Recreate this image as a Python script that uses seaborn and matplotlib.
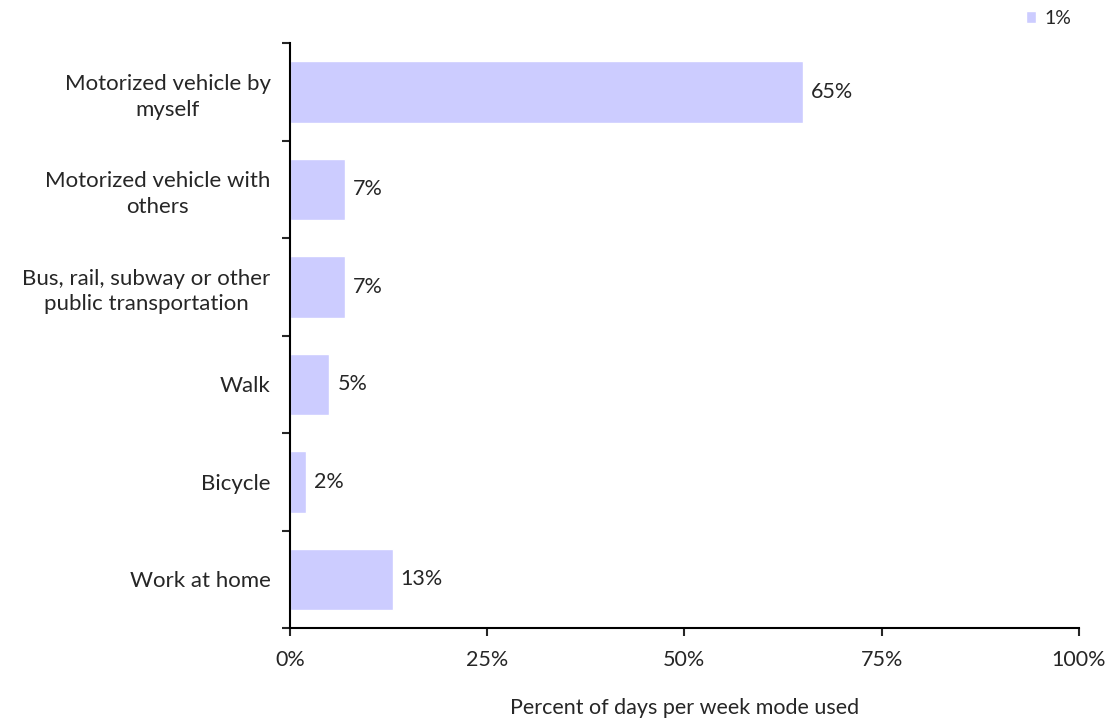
import pandas as pd
import matplotlib.pyplot as plt
import seaborn as sns
from matplotlib.ticker import FixedLocator, PercentFormatter

modes = ['Motorized vehicle by\nmyself', 'Motorized vehicle with\nothers',
         'Bus, rail, subway or other\npublic transportation', 'Walk', 'Bicycle', 'Work at home']
percent = [65, 7, 7, 5, 2, 13]
series_name = '1%'

df = pd.DataFrame({'mode': modes, 'percent': percent, 'series': series_name})

sns.set_style('white')
plt.rcParams['font.family'] = ['Lato', 'DejaVu Sans']

fig = plt.figure(figsize=(11.11, 7.21), dpi=100)
ax = fig.add_axes([0.261, 0.129, 0.71, 0.811])

sns.barplot(data=df, x='percent', y='mode', hue='series', palette=['#CCCCFF'],
            width=0.63, ax=ax, saturation=1)

for i, v in enumerate(percent):
    ax.text(v + 1.0, i, f'{v}%', va='center', ha='left', fontsize=15.5)

ax.set_xlim(0, 100)
ax.set_ylim(len(modes) - 0.5, -0.5)
ax.set_xticks([0, 25, 50, 75, 100])
ax.xaxis.set_major_formatter(PercentFormatter(decimals=0))
ax.set_yticks([i - 0.5 for i in range(len(modes) + 1)])
ax.set_yticklabels([])
ax.yaxis.set_minor_locator(FixedLocator(range(len(modes))))
ax.set_yticklabels(modes, minor=True)
ax.tick_params(axis='y', which='major', direction='out', length=6, width=1.5, left=True)
ax.tick_params(axis='y', which='minor', length=0, pad=14, labelsize=16)
ax.tick_params(axis='x', direction='out', length=6, width=1.5, bottom=True, labelsize=15.5, pad=10)
for lbl in ax.get_yticklabels(minor=True):
    lbl.set_horizontalalignment('right')
    lbl.set_multialignment('center')
    lbl.set_linespacing(1.35)

ax.set_xlabel('Percent of days per week mode used', fontsize=15.5, labelpad=20)
ax.set_ylabel('')

for s in ['top', 'right']:
    ax.spines[s].set_visible(False)
for s in ['left', 'bottom']:
    ax.spines[s].set_color('black')
    ax.spines[s].set_linewidth(1.5)

ax.legend(loc='upper right', bbox_to_anchor=(1.0, 1.07), frameon=False, fontsize=14,
          handlelength=0.55, handleheight=0.55, handletextpad=0.4, borderaxespad=0)

plt.savefig('out.png', dpi=100)
